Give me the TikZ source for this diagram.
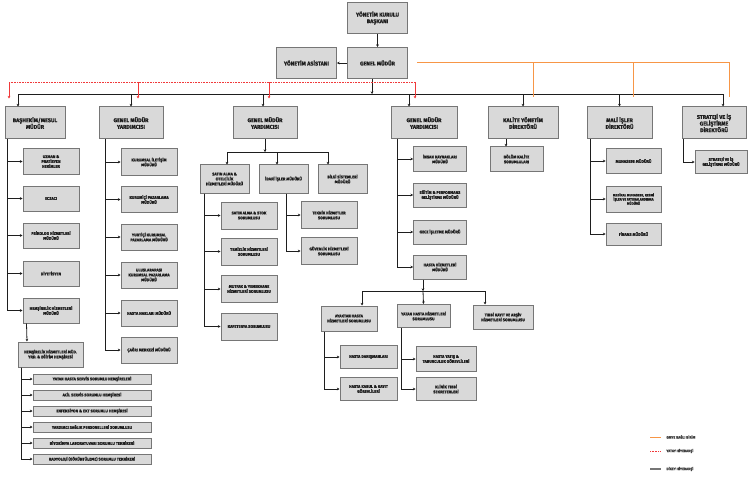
\documentclass[tikz,border=0pt]{standalone}
\usepackage{fontspec}
\setmainfont{Fira Sans}[BoldFeatures={FakeBold=1}]
\usetikzlibrary{arrows.meta}
\definecolor{boxfill}{HTML}{D9D9D9}
\definecolor{boxline}{HTML}{767676}
\definecolor{ink}{HTML}{1E1E1E}
\definecolor{hred}{HTML}{F0393A}
\definecolor{gmyeline}{RGB}{247,150,70}
\definecolor{legendgray}{HTML}{404040}

\begin{document}
\begin{tikzpicture}[x=1pt, y=-1pt, thick, >={Stealth[length=2.6pt,width=2.6pt]},
    main/.style = {draw=boxline, fill=boxfill, line width=1pt, text=ink, align=center, inner sep=1pt,
        font=\fontsize{5.4}{6.6}\selectfont\bfseries, minimum width=60pt, minimum height=31pt},
    sub/.style = {main, font=\fontsize{3.9}{4.9}\selectfont\bfseries, minimum width=56pt, minimum height=25pt},
    item/.style = {sub, minimum width=118pt, minimum height=10pt},
    dikey/.style = {draw=ink},
    yatay/.style = {draw=hred, line width=0.6pt},
    gmye/.style = {color=gmyeline, line width=1pt},
    legend/.style = {anchor=west, text=legendgray, inner sep=0pt, font=\fontsize{3.5}{4}\selectfont\bfseries}]
    \useasboundingbox (0,0) rectangle (755,500);

    % top
    \node[main] (1) at (377.5,18) {YÖNETİM KURULU\\BAŞKANI};
    \node[main] (2) at (377.5,63) {GENEL MÜDÜR};
    \node[main] (3) at (306.5,63) {YÖNETİM ASİSTANI};

    % second level
    \node[main, minimum height=32pt] (4) at (35,123) {BAŞHEKİM/MESUL\\MÜDÜR};
    \node[main, minimum width=64pt, minimum height=32pt] (5) at (131,123) {GENEL MÜDÜR\\YARDIMCISI};
    \node[main, minimum width=64pt, minimum height=32pt] (6) at (265,123) {GENEL MÜDÜR\\YARDIMCISI};
    \node[main, minimum width=66pt, minimum height=32pt] (7) at (424,123) {GENEL MÜDÜR\\YARDIMCISI};
    \node[main, minimum width=70pt, minimum height=32pt] (8) at (523,123) {KALİTE YÖNETİM\\DİREKTÖRÜ};
    \node[main, minimum width=65pt, minimum height=32pt] (9) at (619.5,123) {MALİ İŞLER\\DİREKTÖRÜ};
    \node[main, minimum width=64pt, minimum height=32pt] (10) at (714,123) {STRATEJİ VE İŞ\\GELİŞTİRME\\DİREKTÖRÜ};

    % basHekim
    \node[sub] (11) at (51,161.5) {UZMAN \&\\PRATİSYEN\\HEKİMLER};
    \node[sub] (12) at (51,198.5) {ECZACI};
    \node[sub] (13) at (51,235.5) {PSİKOLOG HİZMETLERİ\\MÜDÜRÜ};
    \node[sub] (14) at (51,273.5) {DİYETİSYEN};
    \node[sub] (15) at (51,310.5) {HEMŞİRELİK HİZMETLERİ\\MÜDÜRÜ};
    \node[sub, minimum width=65pt] (16) at (50.5,354.5) {HEMŞİRELİK HİZMETLERİ MÜD.\\YRD. \& EĞİTİM HEMŞİRESİ};
    \node[item] (17) at (92,379) {YATAN HASTA SERVİS SORUMLU HEMŞİRELERİ};
    \node[item] (18) at (92,395) {ACİL SERVİS SORUMLU HEMŞİRESİ};
    \node[item] (19) at (92,411) {ENFEKSİYON \& EKT SORUMLU HEMŞİRESİ};
    \node[item] (20) at (92,427) {YARDIMCI SAĞLIK PERSONELLERİ SORUMLUSU};
    \node[item] (21) at (92,443) {BİYOKİMYA LABORATUVARI SORUMLU TEKNİKERİ};
    \node[item] (22) at (92,459) {RADYOLOJİ (GÖRÜNTÜLEME) SORUMLU TEKNİKERİ};

    % gmy 1
    \node[sub, minimum height=26pt] (23) at (149,162) {KURUMSAL İLETİŞİM\\MÜDÜRÜ};
    \node[sub, minimum height=26pt] (24) at (149,199.5) {KURUMİÇİ PAZARLAMA\\MÜDÜRÜ};
    \node[sub, minimum height=26pt] (25) at (149,237) {YURTİÇİ KURUMSAL\\PAZARLAMA MÜDÜRÜ};
    \node[sub, minimum height=26pt] (26) at (149,275) {ULUSLARARASI\\KURUMSAL PAZARLAMA\\MÜDÜRÜ};
    \node[sub, minimum height=26pt] (27) at (149,313) {HASTA HAKLARI MÜDÜRÜ};
    \node[sub, minimum height=26pt] (28) at (149,350) {ÇAĞRI MERKEZİ MÜDÜRÜ};

    % gmy 2
    \node[sub, minimum width=49pt, minimum height=28pt] (29) at (224.5,179) {SATIN ALMA \&\\OTELCİLİK\\HİZMETLERİ MÜDÜRÜ};
    \node[sub, minimum width=49pt, minimum height=28pt] (30) at (283.5,179) {İDARİ İŞLER MÜDÜRÜ};
    \node[sub, minimum width=49pt, minimum height=28pt] (31) at (342.5,179) {BİLGİ SİSTEMLERİ\\MÜDÜRÜ};
    \node[sub, minimum height=27pt] (32) at (249,215.5) {SATIN ALMA \& STOK\\SORUMLUSU};
    \node[sub, minimum height=27pt] (33) at (249,251.5) {TEMİZLİK HİZMETLERİ\\SORUMLUSU};
    \node[sub, minimum height=27pt] (34) at (249,289) {MUTFAK \& YEMEKHANE\\HİZMETLERİ SORUMLUSU};
    \node[sub, minimum height=27pt] (35) at (249,326.5) {KAFETERYA SORUMLUSU};
    \node[sub, minimum height=27pt] (36) at (329,215) {TEKNİK HİZMETLER\\SORUMLUSU};
    \node[sub, minimum height=27pt] (37) at (329,251) {GÜVENLİK HİZMETLERİ\\SORUMLUSU};

    % gmy 3
    \node[sub, minimum width=53pt, minimum height=24pt] (38) at (440,159) {İNSAN KAYNAKLARI\\MÜDÜRÜ};
    \node[sub, minimum width=53pt, minimum height=24pt] (39) at (440,195) {EĞİTİM \& PERFORMANS\\GELİŞTİRME MÜDÜRÜ};
    \node[sub, minimum width=53pt, minimum height=24pt] (40) at (440,232) {GECE İŞLETME MÜDÜRÜ};
    \node[sub, minimum width=53pt, minimum height=24pt] (41) at (440,267) {HASTA HİZMETLERİ\\MÜDÜRÜ};
    \node[sub] (42) at (349,318.5) {AYAKTAN HASTA\\HİZMETLERİ SORUMLUSU};
    \node[sub, minimum width=53pt, minimum height=23pt] (43) at (423.5,316) {YATAN HASTA HİZMETLERİ\\SORUMLUSU};
    \node[sub, minimum width=60pt, minimum height=24pt] (44) at (503,317) {TIBBİ KAYIT VE ARŞİV\\HİZMETLERİ SORUMLUSU};
    \node[sub, minimum width=57pt, minimum height=23pt] (45) at (368.5,357) {HASTA DANIŞMANLARI};
    \node[sub, minimum width=57pt, minimum height=23pt] (46) at (368.5,389) {HASTA KABUL \& KAYIT\\GÖREVLİLERİ};
    \node[sub, minimum width=60pt] (47) at (446,359) {HASTA YATIŞ \&\\TABURCULUK GÖREVLİLERİ};
    \node[sub, minimum width=60pt, minimum height=23pt] (48) at (446,389) {KLİNİK TIBBİ\\SEKRETERLERİ};

    % kalite, mali, strateji
    \node[sub, minimum width=53pt, minimum height=24pt] (49) at (516.5,159) {BÖLÜM KALİTE\\SORUMLULARI};
    \node[sub, minimum width=55pt, minimum height=24pt] (50) at (633.5,161) {MUHASEBE MÜDÜRÜ};
    \node[sub, minimum width=55pt, minimum height=26pt, font=\fontsize{3.3}{4.2}\selectfont\bfseries] (51) at (633.5,199) {MEDİKAL MUHASEBE, RESMİ\\İŞLER VE FATURALANDIRMA\\MÜDÜRÜ};
    \node[sub, minimum width=55pt, minimum height=22pt] (52) at (633.5,234) {FİNANS MÜDÜRÜ};
    \node[sub, minimum width=52pt, minimum height=22pt] (53) at (721,162) {STRATEJİ VE İŞ\\GELİŞTİRME MÜDÜRÜ};

    % bus points
    \coordinate (b) at (372,94);
    \coordinate (g) at (265,152);
    \coordinate (h) at (423,291);

    % gm lines
    \draw[dikey,->] (1) -- (2);
    \draw[dikey,->] (2) -- (3);
    \draw[dikey,->] ([xshift=-5.5pt]2.south) -- (b);
    \draw[dikey,->] (b) -| ([xshift=-17pt]4.north);
    \draw[dikey,->] (b) -| (5.north);
    \draw[dikey,->] (b) -| ([xshift=-2pt]6.north);
    \draw[dikey,->] (b) -| ([xshift=-15pt]7.north);
    \draw[dikey,->] (b) -| (8.north);
    \draw[dikey,->] (b) -| (9.north);
    \draw[dikey,->] (b) -| ([xshift=9pt]10.north);

    % yatay
    \draw[yatay, densely dotted] ([xshift=-26pt,yshift=24pt]4.north) -- ([xshift=-9pt,yshift=24pt]7.north);
    \draw[yatay,->] ([xshift=-26pt,yshift=24pt]4.north) -- ([xshift=-26pt,yshift=8pt]4.north);
    \draw[yatay,->] ([xshift=7pt,yshift=24pt]5.north) -- ([xshift=7pt,yshift=8pt]5.north);
    \draw[yatay,->] ([xshift=4pt,yshift=24pt]6.north) -- ([xshift=4pt,yshift=8pt]6.north);
    \draw[yatay,->] ([xshift=-9pt,yshift=24pt]7.north) -- ([xshift=-9pt,yshift=8pt]7.north);

    % gmye
    \draw[gmye] ([xshift=9pt]2.east) -| ([xshift=10pt,yshift=9pt]8.north);
    \draw[gmye] ([xshift=9pt]2.east) -| ([xshift=13.5pt,yshift=9pt]9.north);
    \draw[gmye] ([xshift=9pt]2.east) -| ([xshift=15pt,yshift=9pt]10.north);

    % basHekim
    \draw[dikey,->] ([xshift=3pt]4.south west) |- (11.west);
    \draw[dikey,->] ([xshift=3pt]4.south west) |- (12.west);
    \draw[dikey,->] ([xshift=3pt]4.south west) |- (13.west);
    \draw[dikey,->] ([xshift=3pt]4.south west) |- (14.west);
    \draw[dikey,->] ([xshift=3pt]4.south west) |- (15.west);
    \draw[dikey,->] ([xshift=4pt]15.south west) -- ([xshift=-23.5pt]16.north);
    \draw[dikey,->] ([xshift=4pt]16.south west) |- (17.west);
    \draw[dikey,->] ([xshift=4pt]16.south west) |- (18.west);
    \draw[dikey,->] ([xshift=4pt]16.south west) |- (19.west);
    \draw[dikey,->] ([xshift=4pt]16.south west) |- (20.west);
    \draw[dikey,->] ([xshift=4pt]16.south west) |- (21.west);
    \draw[dikey,->] ([xshift=4pt]16.south west) |- (22.west);

    % gmy 1
    \draw[dikey,->] ([xshift=7pt]5.south west) |- (23.west);
    \draw[dikey,->] ([xshift=7pt]5.south west) |- (24.west);
    \draw[dikey,->] ([xshift=7pt]5.south west) |- (25.west);
    \draw[dikey,->] ([xshift=7pt]5.south west) |- (26.west);
    \draw[dikey,->] ([xshift=7pt]5.south west) |- (27.west);
    \draw[dikey,->] ([xshift=7pt]5.south west) |- (28.west);

    % gmy 2
    \draw[dikey,->] (6) -- (g);
    \draw[dikey,->] (g) -| ([xshift=2.5pt]29.north);
    \draw[dikey,->] (g) -| ([xshift=-6.5pt]30.north);
    \draw[dikey,->] (g) -| ([xshift=-14.5pt]31.north);
    \draw[dikey,->] ([xshift=5pt]29.south west) |- (32.west);
    \draw[dikey,->] ([xshift=5pt]29.south west) |- (33.west);
    \draw[dikey,->] ([xshift=5pt]29.south west) |- (34.west);
    \draw[dikey,->] ([xshift=5pt]29.south west) |- (35.west);
    \draw[dikey,->] ([xshift=2.5pt]30.south) |- (36.west);
    \draw[dikey,->] ([xshift=2.5pt]30.south) |- (37.west);

    % gmy 3
    \draw[dikey,->] ([xshift=7pt]7.south west) |- (38.west);
    \draw[dikey,->] ([xshift=7pt]7.south west) |- (39.west);
    \draw[dikey,->] ([xshift=7pt]7.south west) |- (40.west);
    \draw[dikey,->] ([xshift=7pt]7.south west) |- (41.west);
    \draw[dikey,->] ([xshift=-17pt]41.south) -- (h);
    \draw[dikey,->] (h) -| ([xshift=13pt]42.north);
    \draw[dikey,->] (h) -- (43.north);
    \draw[dikey,->] (h) -| ([xshift=-18pt]44.north);
    \draw[dikey,->] ([xshift=4pt]42.south west) |- (45.west);
    \draw[dikey,->] ([xshift=4pt]42.south west) |- (46.west);
    \draw[dikey,->] ([xshift=5pt]43.south west) |- (47.west);
    \draw[dikey,->] ([xshift=5pt]43.south west) |- (48.west);

    % kalite, mali, strateji
    \draw[dikey,->] ([xshift=-17pt]8.south) -- ([xshift=-10.5pt]49.north);
    \draw[dikey,->] ([xshift=4pt]9.south west) |- (50.west);
    \draw[dikey,->] ([xshift=4pt]9.south west) |- (51.west);
    \draw[dikey,->] ([xshift=4pt]9.south west) |- (52.west);
    \draw[dikey,->] ([xshift=2pt]10.south west) |- (53.west);

    % legend
    \node[legend] (l1) at (666,437) {GMYE BAĞLI BİRİM};
    \node[legend] (l2) at (666,451) {YATAY HİYERARŞİ};
    \node[legend] (l3) at (666,469) {DİKEY HİYERARŞİ};
    \draw[gmye] (650,437) -- (661,437);
    \draw[yatay, densely dotted] (650,451) -- (661,451);
    \draw[boxline, line width=1.5pt] (650,469) -- (661,469);
\end{tikzpicture}
\end{document}
